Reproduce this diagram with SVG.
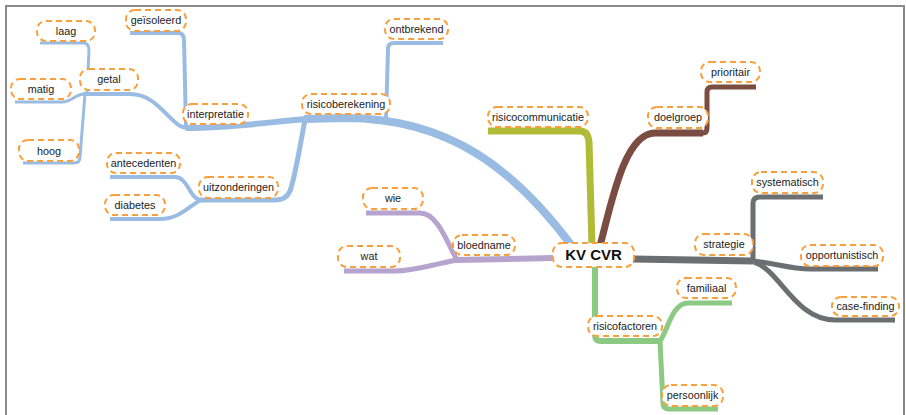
<svg xmlns="http://www.w3.org/2000/svg" width="906" height="415" viewBox="0 0 906 415">
<style>
.c{fill:none;stroke-linecap:butt;stroke-linejoin:round}
.b{stroke:#9bbce2}
.o{stroke:#b2bb37}
.r{stroke:#7b4c41}
.g{stroke:#6c6f71}
.gr{stroke:#8cca83}
.p{stroke:#b6a4cf}
.n rect{fill:#fff;stroke:#f9a03c;stroke-width:2;stroke-dasharray:6 4}
.n text{font-family:"Liberation Sans",Arial,sans-serif;font-size:10.8px;fill:#222;text-anchor:middle}
#kvcvr text{font-size:15px;font-weight:bold;fill:#111}
</style>
<rect width="906" height="415" fill="#fff"/>
<path d="M6,415 L6,6 L904,6 L904,415" fill="none" stroke="#8a8a8a" stroke-width="2"/>
<g id="connectors">
<path class="c b" stroke-width="8" d="M572,246 C515,170 450,118 345,118 L304,119"/>
<path class="c b" stroke-width="6" d="M306,119 C270,122 230,128 186,128"/>
<path class="c b" stroke-width="5" d="M305,120 C301,140 295,178 290,191 Q286,200 276,200 L200,200"/>
<path class="c b" stroke-width="4" d="M201,200 C190,200 188,177 175,177 L110,177"/>
<path class="c b" stroke-width="4" d="M201,200 C190,205 180,219 160,219 L110,219"/>
<path class="c b" stroke-width="4" d="M188,128 C170,128 160,94 130,94 L83,94"/>
<path class="c b" stroke-width="4" d="M130,33 L178,33 Q184,33 184,40 L186,127"/>
<path class="c b" stroke-width="3" d="M87,94 L89,50 Q89,43 83,43 L40,43"/>
<path class="c b" stroke-width="3" d="M85,94 C75,94 72,102 62,102 L15,102"/>
<path class="c b" stroke-width="3" d="M85,94 L80,157 Q80,163 74,163 L23,163"/>
<path class="c b" stroke-width="4" d="M386,118 L388,49 Q388,43 394,43 L443,43"/>
<path class="c o" stroke-width="7" d="M488,131 L580,131 Q588,131 589,142 L592,246"/>
<path class="c r" stroke-width="7" d="M600,246 C612,200 625,133 655,133 L703,133"/>
<path class="c r" stroke-width="5" d="M703,133 Q707,133 707,128 L707,92 Q707,87 712,87 L756,87"/>
<path class="c g" stroke-width="7" d="M633,259 L753,261"/>
<path class="c g" stroke-width="5" d="M753,261 L753,203 Q753,197 760,197 L823,197"/>
<path class="c g" stroke-width="5" d="M752,261 C770,262 790,269 810,269 L878,269"/>
<path class="c g" stroke-width="5" d="M754,262 C780,270 795,320 835,320 L895,320"/>
<path class="c gr" stroke-width="6" d="M595,266 L595,335 Q595,341 601,341 L662,341"/>
<path class="c gr" stroke-width="5" d="M660,341 C668,330 672,303 688,303 L732,303"/>
<path class="c gr" stroke-width="5" d="M660,341 L663,403 Q663,409 669,409 L718,409"/>
<path class="c p" stroke-width="6" d="M554,258 L455,260"/>
<path class="c p" stroke-width="5" d="M457,260 C448,245 438,213 420,213 L366,213"/>
<path class="c p" stroke-width="5" d="M457,260 C430,265 415,271 395,271 L344,271"/>
</g>
<g id="laag" class="n"><rect x="37" y="21" width="58" height="20" rx="9"/><text x="66" y="35">laag</text></g>
<g id="getal" class="n"><rect x="80" y="69" width="58" height="21" rx="9"/><text x="109" y="83">getal</text></g>
<g id="matig" class="n"><rect x="11" y="79" width="60" height="20" rx="9"/><text x="41" y="93">matig</text></g>
<g id="hoog" class="n"><rect x="19" y="140" width="60" height="21" rx="9"/><text x="49" y="155">hoog</text></g>
<g id="geisoleerd" class="n"><rect x="126" y="10" width="60" height="21" rx="9"/><text x="156" y="24">geïsoleerd</text></g>
<g id="interpretatie" class="n"><rect x="183" y="104" width="65" height="20" rx="9"/><text x="215.5" y="118">interpretatie</text></g>
<g id="antecedenten" class="n"><rect x="107" y="153" width="73" height="20" rx="9"/><text x="143.5" y="167">antecedenten</text></g>
<g id="uitzonderingen" class="n"><rect x="199" y="177" width="79" height="21" rx="9"/><text x="238.5" y="191">uitzonderingen</text></g>
<g id="diabetes" class="n"><rect x="105" y="195" width="60" height="20" rx="9"/><text x="135" y="209">diabetes</text></g>
<g id="ontbrekend" class="n"><rect x="385" y="19" width="63" height="20" rx="9"/><text x="416.5" y="33">ontbrekend</text></g>
<g id="risicoberekening" class="n"><rect x="302" y="94" width="88" height="20" rx="9"/><text x="346" y="108">risicoberekening</text></g>
<g id="risicocommunicatie" class="n"><rect x="488" y="107" width="100" height="20" rx="9"/><text x="538" y="121">risicocommunicatie</text></g>
<g id="wie" class="n"><rect x="363" y="188" width="60" height="21" rx="9"/><text x="393" y="202">wie</text></g>
<g id="wat" class="n"><rect x="338" y="246" width="62" height="21" rx="9"/><text x="369" y="260">wat</text></g>
<g id="bloedname" class="n"><rect x="453" y="235" width="62" height="20" rx="9"/><text x="484" y="249">bloedname</text></g>
<g id="kvcvr" class="n"><rect x="553" y="243" width="81" height="24" rx="9"/><text x="593.5" y="260">KV CVR</text></g>
<g id="prioritair" class="n"><rect x="701" y="62" width="59" height="20" rx="9"/><text x="730.5" y="76">prioritair</text></g>
<g id="doelgroep" class="n"><rect x="648" y="107" width="60" height="21" rx="9"/><text x="678" y="121">doelgroep</text></g>
<g id="systematisch" class="n"><rect x="752" y="172" width="71" height="21" rx="9"/><text x="787.5" y="186">systematisch</text></g>
<g id="strategie" class="n"><rect x="695" y="234" width="58" height="21" rx="9"/><text x="724" y="248">strategie</text></g>
<g id="opportunistisch" class="n"><rect x="801" y="245" width="82" height="21" rx="9"/><text x="842" y="259">opportunistisch</text></g>
<g id="casefinding" class="n"><rect x="832" y="297" width="67" height="19" rx="9"/><text x="865.5" y="310">case-finding</text></g>
<g id="familiaal" class="n"><rect x="677" y="278" width="59" height="20" rx="9"/><text x="706.5" y="292">familiaal</text></g>
<g id="risicofactoren" class="n"><rect x="588" y="316" width="74" height="20" rx="9"/><text x="625" y="330">risicofactoren</text></g>
<g id="persoonlijk" class="n"><rect x="662" y="385" width="61" height="21" rx="9"/><text x="692.5" y="399">persoonlijk</text></g>
</svg>
